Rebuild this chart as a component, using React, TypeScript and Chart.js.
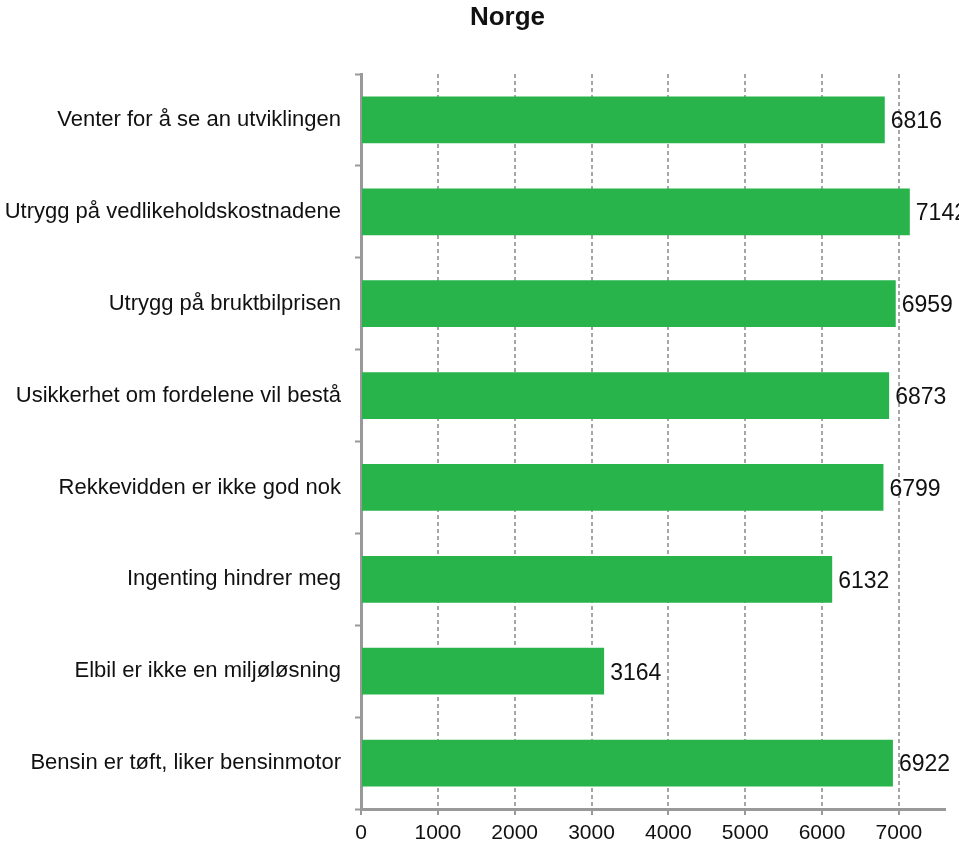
import React, { useEffect, useRef } from 'react';
import { Chart, registerables } from 'chart.js';

Chart.register(...registerables);

const chartTitle = 'Norge';
const categories = [
  'Venter for å se an utviklingen',
  'Utrygg på vedlikeholdskostnadene',
  'Utrygg på bruktbilprisen',
  'Usikkerhet om fordelene vil bestå',
  'Rekkevidden er ikke god nok',
  'Ingenting hindrer meg',
  'Elbil er ikke en miljøløsning',
  'Bensin er tøft, liker bensinmotor',
];
const values = [6816, 7142, 6959, 6873, 6799, 6132, 3164, 6922];
const xTickValues = [0, 1000, 2000, 3000, 4000, 5000, 6000, 7000];
const xMin = 0;
const xMax = 7600;

const FONT = "'Liberation Sans', Arial, Helvetica, sans-serif";

const valueLabelPlugin = {
  id: 'valueLabels',
  afterDatasetsDraw(chart: any) {
    const ctx = chart.ctx;
    const meta = chart.getDatasetMeta(0);
    ctx.save();
    ctx.font = `23px ${FONT}`;
    ctx.fillStyle = '#111';
    ctx.textAlign = 'left';
    ctx.textBaseline = 'middle';
    meta.data.forEach((bar: any, i: number) => {
      ctx.fillText(String(values[i]), bar.x + 6, bar.y + 2);
    });
    ctx.restore();
  },
};

const titlePlugin = {
  id: 'customTitle',
  afterDraw(chart: any) {
    const ctx = chart.ctx;
    ctx.save();
    ctx.font = `bold 26px ${FONT}`;
    ctx.fillStyle = '#111';
    ctx.textAlign = 'center';
    ctx.textBaseline = 'middle';
    ctx.fillText(chartTitle, 507.5, 18);
    ctx.restore();
  },
};

export default function App() {
  const canvasRef = useRef<HTMLCanvasElement | null>(null);

  useEffect(() => {
    if (!canvasRef.current) return;
    const chart = new Chart(canvasRef.current, {
      type: 'bar',
      data: {
        labels: categories,
        datasets: [
          {
            data: values,
            backgroundColor: '#29b34b',
            borderWidth: 0,
            barPercentage: 0.508,
            categoryPercentage: 1,
          },
        ],
      },
      options: {
        indexAxis: 'y',
        animation: false,
        responsive: false,
        devicePixelRatio: 1,
        layout: { padding: { top: 74, right: 14, left: 0, bottom: 0 } },
        plugins: {
          legend: { display: false },
          tooltip: { enabled: false },
          title: { display: false },
        },
        scales: {
          x: {
            type: 'linear',
            min: xMin,
            max: xMax,
            afterBuildTicks: (scale: any) => {
              scale.ticks = xTickValues.map((v) => ({ value: v }));
            },
            afterFit: (scale: any) => {
              scale.height = 39;
            },
            ticks: {
              font: { family: FONT, size: 21 },
              color: '#111',
              padding: 6,
              maxRotation: 0,
              callback: (v: any) => String(v),
            },
            grid: {
              color: '#a6a6a6',
              lineWidth: 2,
              drawTicks: true,
              tickLength: 6,
              tickColor: '#999',
              tickWidth: 2,
              tickBorderDash: [],
            },
            border: { display: true, color: '#999', width: 3, dash: [4, 3] },
          },
          y: {
            type: 'category',
            afterFit: (scale: any) => {
              scale.width = 361;
            },
            ticks: {
              font: { family: FONT, size: 22 },
              color: '#111',
              padding: 14,
            },
            grid: {
              display: true,
              drawOnChartArea: false,
              drawTicks: true,
              tickLength: 6,
              tickColor: '#999',
              tickWidth: 2,
              tickBorderDash: [],
              offset: true,
            },
            border: { display: true, color: '#999', width: 3 },
          },
        },
      },
      plugins: [valueLabelPlugin, titlePlugin],
    } as any);
    return () => chart.destroy();
  }, []);

  return (
    <div style={{ position: 'absolute', left: 0, top: 0, width: 959, height: 848 }}>
      <canvas ref={canvasRef} width={959} height={848} style={{ display: 'block' }} />
    </div>
  );
}
